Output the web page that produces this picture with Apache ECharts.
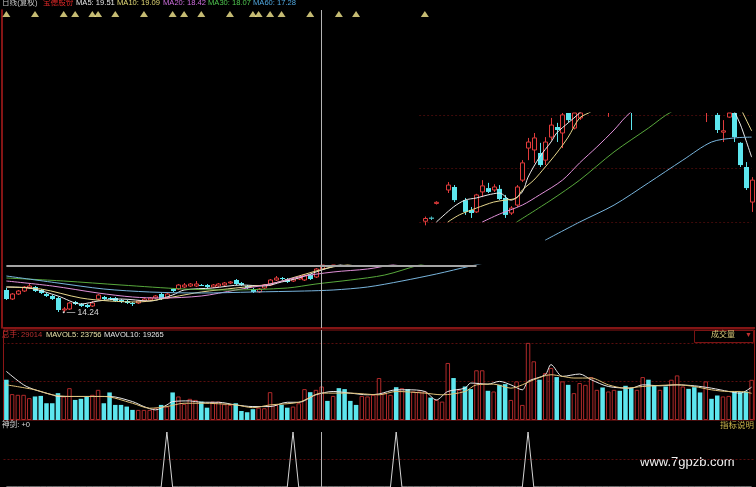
<!DOCTYPE html>
<html><head><meta charset="utf-8">
<script src="https://cdn.jsdelivr.net/npm/echarts@6/dist/echarts.min.js"></script>
<style>html,body{margin:0;padding:0;background:#000}#c{width:756px;height:487px}</style>
</head><body><div id="c"></div>
<script>
// ---------- data ----------
const N = 131;
const days = Array.from({length: N}, (_, i) => 'D' + (i + 1));

// lower (compressed) price panel, bars 0..62: [open, close, low, high]
const lowerCandles = [
[15.35,14.90,14.85,15.45],[14.90,15.15,14.85,15.20],[15.15,15.30,15.10,15.35],[15.30,15.50,15.25,15.55],
[15.45,15.55,15.40,15.65],[15.50,15.30,15.25,15.55],[15.35,15.20,15.15,15.40],[15.15,15.05,15.00,15.20],
[15.05,14.90,14.85,15.10],[14.95,14.35,14.25,15.00],[14.35,14.40,14.24,14.50],[14.40,14.70,14.35,14.75],
[14.75,14.65,14.60,14.80],[14.65,14.55,14.50,14.70],[14.60,14.50,14.45,14.65],[14.55,14.70,14.50,14.80],
[14.90,15.10,14.85,15.15],[15.00,14.90,14.85,15.05],[14.95,14.90,14.85,15.00],[14.95,14.80,14.75,15.00],
[14.85,14.75,14.70,14.90],[14.80,14.70,14.65,14.85],[14.70,14.65,14.55,14.75],[14.70,14.80,14.65,14.85],
[14.80,14.90,14.75,14.95],[14.85,14.95,14.80,15.00],[14.95,15.05,14.90,15.10],[15.15,14.90,14.85,15.20],
[14.95,15.15,14.90,15.20],[15.40,15.30,15.25,15.45],[15.40,15.60,15.35,15.65],[15.50,15.60,15.45,15.70],
[15.55,15.65,15.50,15.70],[15.55,15.65,15.50,15.80],[15.60,15.58,15.55,15.65],[15.60,15.50,15.45,15.65],
[15.50,15.60,15.45,15.65],[15.55,15.65,15.50,15.70],[15.60,15.70,15.55,15.75],[15.70,15.75,15.65,15.80],
[15.85,15.65,15.60,15.90],[15.70,15.60,15.55,15.75],[15.55,15.45,15.40,15.60],[15.40,15.25,15.20,15.45],
[15.25,15.40,15.20,15.45],[15.45,15.60,15.40,15.65],[15.60,15.85,15.55,15.90],[15.85,15.95,15.80,16.05],
[15.95,15.90,15.85,16.00],[15.90,15.75,15.70,15.95],[15.80,15.90,15.75,15.95],[15.90,16.00,15.85,16.05],
[15.85,16.10,15.80,16.15],[16.10,15.90,15.85,16.15],[16.00,16.40,15.95,16.45],[16.40,16.60,16.35,16.70],
[16.70,16.55,16.50,16.80],[16.55,16.70,16.50,16.80],[16.80,16.60,16.55,16.90],[16.75,16.60,16.55,16.85],
[16.75,16.55,16.50,16.85],[16.65,16.60,16.55,16.75],[16.60,16.75,16.55,16.85]
];
const lowMark = 14.24, lowMarkDay = 10;

// lower panel moving averages: [day index, price]
const lowMA5  = [[0,15.5],[4,15.45],[9,15.05],[13,14.65],[16,14.8],[20,14.9],[25,14.8],[29,15.1],[31,15.35],[36,15.45],[41,15.6],[45,15.55],[48,15.75],[51,15.95],[55,16.35],[58,16.6],[62,16.95]];
const lowMA10 = [[0,15.5],[6,15.4],[13,14.95],[18,14.8],[23,14.75],[29,15.0],[34,15.25],[40,15.45],[46,15.65],[51,16.05],[56,16.45],[60,16.65],[64,16.95]];
const lowMA20 = [[0,15.8],[8,15.55],[16,15.2],[22,15.0],[27,14.95],[34,15.05],[40,15.35],[46,15.65],[51,16.0],[57,16.25],[63,16.4],[67,16.6],[72,16.9]];
const lowMA30 = [[0,15.95],[10,15.8],[20,15.6],[31,15.4],[39,15.35],[49,15.45],[54,15.65],[60,15.85],[66,16.1],[72,16.6],[76,16.9]];
const lowMA60 = [[0,16.05],[9,15.7],[17,15.4],[25,15.25],[34,15.2],[43,15.25],[52,15.3],[57,15.35],[63,15.5],[69,15.8],[75,16.15],[81,16.55],[85,16.8]];

// upper (enlarged) price panel, bars from day 72
const upperStart = 72;
const upperCandles = [
'-',[17.05,17.15,16.90,17.22],[17.18,17.15,17.10,17.22],[17.70,17.74,17.66,17.78],'-',
[18.19,18.37,18.08,18.48],[18.30,17.82,17.75,18.37],'-',[17.82,17.39,17.28,17.90],[17.46,17.35,17.17,17.57],
[17.39,18.01,17.35,18.05],[18.12,18.34,17.93,18.55],[18.26,18.12,18.08,18.45],[18.19,18.30,18.12,18.40],
[18.23,17.86,17.82,18.37],[17.90,17.28,17.17,18.01],[17.35,17.53,17.28,17.60],[17.64,18.30,17.57,18.37],
[18.55,19.18,18.48,19.28],[19.72,19.94,19.28,20.09],[19.65,20.09,19.18,20.27],[19.54,19.10,19.03,19.91],
[19.28,19.94,19.10,20.12],[20.12,20.56,20.01,20.82],[20.49,20.38,19.94,20.64],[20.27,20.93,19.72,21.10],
[21.10,20.74,20.67,21.30],[20.45,21.20,20.40,21.40],[20.82,21.25,20.75,21.45],[21.30,21.60,21.15,21.80],
[21.60,21.90,21.40,22.10],[21.90,21.70,21.50,22.20],[21.70,22.00,21.50,22.20],[21.30,21.80,20.86,22.00],
[21.80,22.10,21.60,22.30],[22.10,22.30,21.90,22.50],[22.30,22.00,21.80,22.50],[22.00,21.30,20.38,22.20],
[21.40,21.90,21.20,22.10],[21.90,22.30,21.70,22.50],[22.30,22.60,22.10,22.80],[22.60,22.40,22.20,22.90],
[22.40,22.80,22.20,23.00],[22.80,22.60,22.40,23.10],[22.60,23.00,22.40,23.20],[23.00,22.70,22.50,23.20],
[22.70,22.50,22.20,22.90],[22.50,22.20,21.90,22.70],[22.20,22.00,21.70,22.40],[22.00,22.20,21.70,22.40],
[21.60,21.90,20.67,22.10],[21.90,21.50,21.30,22.00],[20.93,20.38,20.27,21.20],[20.30,20.35,19.94,20.74],
[20.85,21.30,20.82,21.50],[21.30,20.12,19.94,21.50],[19.91,19.10,19.03,19.94],[19.03,18.26,18.19,19.21],
[17.75,18.55,17.39,18.66]
];
const upperGuides = [20.93, 18.99, 17.02];
const upMA5  = [[75,17.02],[78,17.57],[80,17.82],[82,17.9],[84,18.01],[86,18.08],[88,17.82],[90,18.12],[91,18.66],[93,19.39],[95,19.94],[96,20.27],[98,20.64],[100,21.0],[103,21.6],[108,22.0],[113,22.5],[118,22.8],[123,22.3],[125,21.8],[127,21.04],[128,20.6],[129,20.01],[130,19.39]];
const upMA10 = [[77,17.02],[79,17.28],[82,17.53],[85,17.75],[87,17.82],[89,17.9],[90,18.19],[92,18.55],[94,19.03],[96,19.54],[98,20.12],[100,20.82],[102,21.05],[106,21.7],[112,22.2],[118,22.5],[124,22.3],[127,21.6],[128,21.2],[130,20.35]];
const upMA20 = [[83,17.02],[86,17.31],[90,17.64],[93,18.01],[97,18.55],[100,19.18],[103,19.76],[106,20.38],[108,20.85],[110,21.2],[118,22.0],[125,22.2],[130,21.9]];
const upMA30 = [[89,17.02],[95,17.82],[100,18.55],[106,19.58],[112,20.45],[116,21.04],[122,21.5],[130,21.6]];
const upMA60 = [[94,16.36],[100,17.02],[106,17.64],[112,18.45],[118,19.28],[123,19.94],[127,20.09],[130,20.12]];

// volume (手) and up/down flag (1 = up day, red hollow; 0 = down day, cyan)
const volume = [
29100,18700,18200,18200,15800,17000,17400,12100,12100,19400,
17000,23000,14500,15300,17000,18200,21800,12100,19900,10900,
10900,9700,7300,7300,7300,7300,8500,10900,9700,19900,
17000,11600,15300,14500,13300,8900,13300,13300,11400,10900,
12100,6500,5600,7800,8900,8500,20100,10900,10900,8900,
9700,12100,22300,20100,21800,24200,13800,17400,23000,22300,
13800,10900,17400,17000,18200,
30300,19400,18200,23700,23000,22300,20600,20600,20600,16200,
14500,13300,41200,30300,21800,24200,22300,35900,35900,21100,
20600,25400,25900,14500,27900,10900,55700,42400,29100,33900,
37600,31000,27900,25400,19400,26700,25400,31000,21800,23500,
20600,21800,21100,24700,23000,21800,31000,29100,24700,21800,
24200,29100,32200,24200,22500,23700,19900,27900,15300,17700,
17000,17400,20600,20100,20600,29014
];
const volUp = [
0,1,1,1,1,0,0,0,0,0, 1,1,0,0,0,1,1,0,0,0, 0,0,0,1,1,1,1,0,1,0,
1,1,1,1,0,0,1,1,1,1, 0,0,0,0,1,1,1,1,0,0, 1,1,1,0,1,1,0,1,0,0,
0,0,1,1,1, 1,1,1,0,1,0,1,1,1,0, 1,1,1,0,1,0,0,1,1,0,
1,0,0,1,1,1,1,1,0,1, 1,0,1,0,1,1,1,1,1,0, 1,1,0,0,0,1,1,0,0,1,
0,1,1,1,0,0,0,1,0,0, 1,1,0,0,0,1
];
const mavol5  = [[0,35100],[3,25400],[5,21800],[8,18200],[9,17000],[18,17000],[22,13300],[24,9700],[26,7300],[28,10900],[29,13300],[32,13800],[34,12800],[37,12800],[40,10900],[43,9700],[46,9700],[49,12800],[51,12800],[54,18200],[57,20600],[60,19400],[63,18200],[65,18800],[68,21800],[70,21800],[73,20600],[75,14500],[77,20600],[80,23000],[81,26700],[84,25900],[86,27900],[88,25400],[90,21800],[91,27900],[94,32700],[95,40000],[97,31500],[100,33200],[102,29100],[105,24200],[109,23000],[111,25400],[114,24700],[117,25400],[120,24700],[123,23000],[126,20600],[128,19400],[130,23756]];
const mavol10 = [[0,25400],[5,21800],[8,18200],[11,17000],[17,17000],[22,12100],[25,8500],[28,9700],[31,12100],[34,12100],[40,10900],[43,8900],[46,10900],[51,12800],[55,19400],[60,19400],[65,18200],[68,20600],[73,19400],[76,18200],[80,20600],[82,25400],[85,25900],[88,23000],[90,25400],[92,29100],[95,32700],[97,31500],[99,30300],[102,30300],[105,25400],[108,23000],[111,24200],[117,25400],[120,24200],[123,21800],[126,20600],[128,20600],[130,19265]];

// signals
const signalDays = [0,5,10,12,15,16,19,24,29,31,34,39,43,44,46,48,53,58,61,73];
const signalLevel = 79;
const spikeDays = [28,50,68,91];
const shenjian = days.map((d, i) => spikeDays.includes(i) ? 1 : 0);
const crossDay = 55, hCrossLevel = 16.58, hCrossEnd = 82;

// header texts
const header = [
  ['日线(复权)', 2, '#c4c4c4'], ['宝德股份', 43, '#e02828'],
  ['MA5: 19.51', 76, '#e8e8e8'], ['MA10: 19.09', 117, '#e6dc78'],
  ['MA20: 18.42', 163, '#d070e0'], ['MA30: 18.07', 208, '#50c850'],
  ['MA60: 17.28', 253, '#50a8e0']
];
const volHeader = [
  ['总手:', 2, '#c83030'], ['29014', 21, '#b83030'],
  ['MAVOL5: 23756', 46, '#e8e0a8'], ['MAVOL10: 19265', 104, '#e4e4e4']
];

// ---------- build ----------
const FONT = "'Liberation Sans','Noto Sans CJK SC',sans-serif";
const C_UP = '#e23c3c', C_DN = '#5de6ee';
const maCol = ['#ececec', '#e6d68c', '#e090d8', '#58a83c', '#78b4dc'];
const toRows = (arr, start) => arr.map((c, k) => c === '-' ? null : [start + k].concat(c)).filter(Boolean);
const upperRows = toRows(upperCandles, upperStart);
const lowerRows = toRows(lowerCandles, 0);
const volData = volume.map((v, i) => ({
  value: v,
  itemStyle: volUp[i] ? {color: '#000', borderColor: '#b02a2a', borderWidth: 1} : {color: C_DN}
}));

// candle drawn through the axes, clipped to its grid
function renderCandle(params, api) {
  const i = api.value(0), o = api.value(1), c = api.value(2), l = api.value(3), h = api.value(4);
  const cs = params.coordSys;
  const area = {x: cs.x, y: cs.y, width: cs.width, height: cs.height};
  const pO = api.coord([i, o]), pC = api.coord([i, c]);
  const pL = api.coord([i, l]), pH = api.coord([i, h]);
  const n = Math.round(pO[0]);
  const x = n + 0.5;
  const up = c >= o;
  const col = up ? C_UP : C_DN;
  const top = Math.min(pO[1], pC[1]), bot = Math.max(pO[1], pC[1]);
  const children = [];
  const w1 = echarts.graphic.clipPointsByRect([[x, pH[1]], [x, top]], area);
  const w2 = echarts.graphic.clipPointsByRect([[x, bot], [x, pL[1]]], area);
  [w1, w2].forEach(p => {
    if (Math.abs(p[0][1] - p[1][1]) > 0.01)
      children.push({type: 'polyline', shape: {points: p}, style: {stroke: col, lineWidth: 1, fill: null}});
  });
  const bodyRect = up
    ? {x: n - 1.5, y: top, width: 4, height: Math.max(bot - top, 1)}
    : {x: n - 2, y: top, width: 5, height: Math.max(bot - top, 1)};
  const body = echarts.graphic.clipRectByRect(bodyRect, area);
  if (body && body.height > 0.01) {
    children.push({type: 'rect', shape: body,
      style: up ? {fill: '#000', stroke: C_UP, lineWidth: 1} : {fill: C_DN}});
  }
  return {type: 'group', children};
}

const G = {left: 3.5, width: 751};
const grids = [
  Object.assign({top: 10, height: 318}, G),
  Object.assign({top: 113, height: 137}, G),
  Object.assign({top: 265, height: 63}, G),
  Object.assign({top: 330, height: 90, show: true, borderColor: '#8c1616', borderWidth: 1}, G),
  Object.assign({top: 432, height: 65}, G)
];
const xAxes = grids.map((g, k) => ({
  type: 'category', data: days, gridIndex: k, boundaryGap: true,
  show: k === 0,
  axisLine: {show: true, lineStyle: {color: '#b01c1c', width: 1.5}},
  axisTick: {show: false}, axisLabel: {show: false}, splitLine: {show: false}
}));
const hid = {axisLine: {show: false}, axisTick: {show: false}, axisLabel: {show: false}};
const yAxes = [
  {gridIndex: 0, min: 0, max: 80, offset: 2, axisLine: {show: true, lineStyle: {color: '#b01c1c', width: 1.5}}, axisTick: {show: false}, axisLabel: {show: false}, splitLine: {show: false}},
  {gridIndex: 1, min: 16, max: 21, show: false},
  {gridIndex: 2, min: 13.45, max: 16.6, show: false},
  Object.assign({gridIndex: 3, min: 0, max: 65000, interval: 27800,
    splitLine: {show: true, showMinLine: false, showMaxLine: false, lineStyle: {color: '#5a0e0e', type: [2, 2]}}}, hid),
  Object.assign({gridIndex: 4, min: 0, max: 1, interval: 0.5,
    splitLine: {show: true, showMinLine: false, showMaxLine: false, lineStyle: {color: '#5a0e0e', type: [2, 2]}}}, hid)
];

const cross = {silent: true, symbol: 'none', label: {show: false}, animation: false,
  lineStyle: {color: '#b4b4b4', width: 1, type: 'solid'}, data: [{xAxis: days[crossDay]}]};
const maLine = (data, color, gi, extra) => Object.assign({type: 'line', xAxisIndex: gi, yAxisIndex: gi, data, symbol: 'none',
  smooth: 0.3, clip: true, lineStyle: {width: 1, color}, itemStyle: {color}, silent: true}, extra || {});

const series = [
  {type: 'scatter', xAxisIndex: 0, yAxisIndex: 0, data: signalDays.map(i => [i, signalLevel]),
   symbol: 'triangle', symbolSize: [8, 6], itemStyle: {color: '#f6ea90'}, silent: true, markLine: cross},
  {type: 'custom', xAxisIndex: 1, yAxisIndex: 1, data: upperRows, renderItem: renderCandle,
   encode: {x: 0, y: [1, 2, 3, 4]}, silent: true, z: 3},
  maLine(upMA5, maCol[0], 1), maLine(upMA10, maCol[1], 1), maLine(upMA20, maCol[2], 1),
  maLine(upMA30, maCol[3], 1),
  maLine(upMA60, maCol[4], 1, {
    markLine: {silent: true, symbol: 'none', label: {show: false}, z: 1,
      lineStyle: {color: '#3e0a0a', width: 1, type: [2, 2]},
      data: upperGuides.map(p => [{coord: [days[upperStart], p]}, {coord: [days[N - 1], p]}])}
  }),
  {type: 'custom', xAxisIndex: 2, yAxisIndex: 2, data: lowerRows, renderItem: renderCandle,
   encode: {x: 0, y: [1, 2, 3, 4]}, silent: true},
  maLine(lowMA5, maCol[0], 2), maLine(lowMA10, maCol[1], 2), maLine(lowMA20, maCol[2], 2),
  maLine(lowMA30, maCol[3], 2),
  maLine(lowMA60, maCol[4], 2, {
    markPoint: {silent: true, symbol: 'circle', symbolSize: 2, itemStyle: {color: '#ddd'},
      label: {show: true, position: 'right', distance: 2, formatter: '— ' + lowMark.toFixed(2), color: '#d8d8d8', fontSize: 8.5, fontFamily: FONT},
      data: [{coord: [days[lowMarkDay], lowMark], value: lowMark}]},
    markLine: {silent: true, symbol: 'none', label: {show: false}, lineStyle: {color: '#a4a4a4', width: 2, type: 'solid'},
      data: [[{coord: [days[0], hCrossLevel]}, {coord: [days[hCrossEnd], hCrossLevel]}]]}
  }),
  {type: 'bar', xAxisIndex: 3, yAxisIndex: 3, data: volData, barWidth: 4.5, silent: true, markLine: cross},
  maLine(mavol5, '#e8e8e8', 3), maLine(mavol10, '#e0c27a', 3),
  {type: 'line', xAxisIndex: 4, yAxisIndex: 4, data: shenjian, symbol: 'none', silent: true,
   lineStyle: {width: 1, color: '#d4d4d4'}, markLine: cross}
];

const txt = (t, x, y, fill, size) => ({type: 'text', left: x, top: y, silent: true,
  style: {text: t, fill, fontSize: size || 7.6, fontFamily: FONT}});
const graphic = [
  ...header.map(h => txt(h[0], h[1], -1, h[2])),
  ...volHeader.map(h => txt(h[0], h[1], 331, h[2])),
  {type: 'rect', left: 694, top: 330, silent: true, shape: {width: 59, height: 12},
   style: {fill: '#000', stroke: '#7a1414', lineWidth: 1}},
  txt('成交量', 711, 331, '#d8c878', 8), txt('▼', 745, 332, '#c03030', 7),
  txt('神剑: +0', 2, 421, '#d8d8d8'), txt('指标说明', 720, 421, '#c9b24a', 8.5),
  txt('www.7gpzb.com', 640, 456, '#f2f2f2', 13)
];

const chart = echarts.init(document.getElementById('c'), null, {renderer: 'canvas'});
chart.setOption({
  backgroundColor: '#000', animation: false,
  grid: grids, xAxis: xAxes, yAxis: yAxes, series, graphic
});
</script>
</body></html>
